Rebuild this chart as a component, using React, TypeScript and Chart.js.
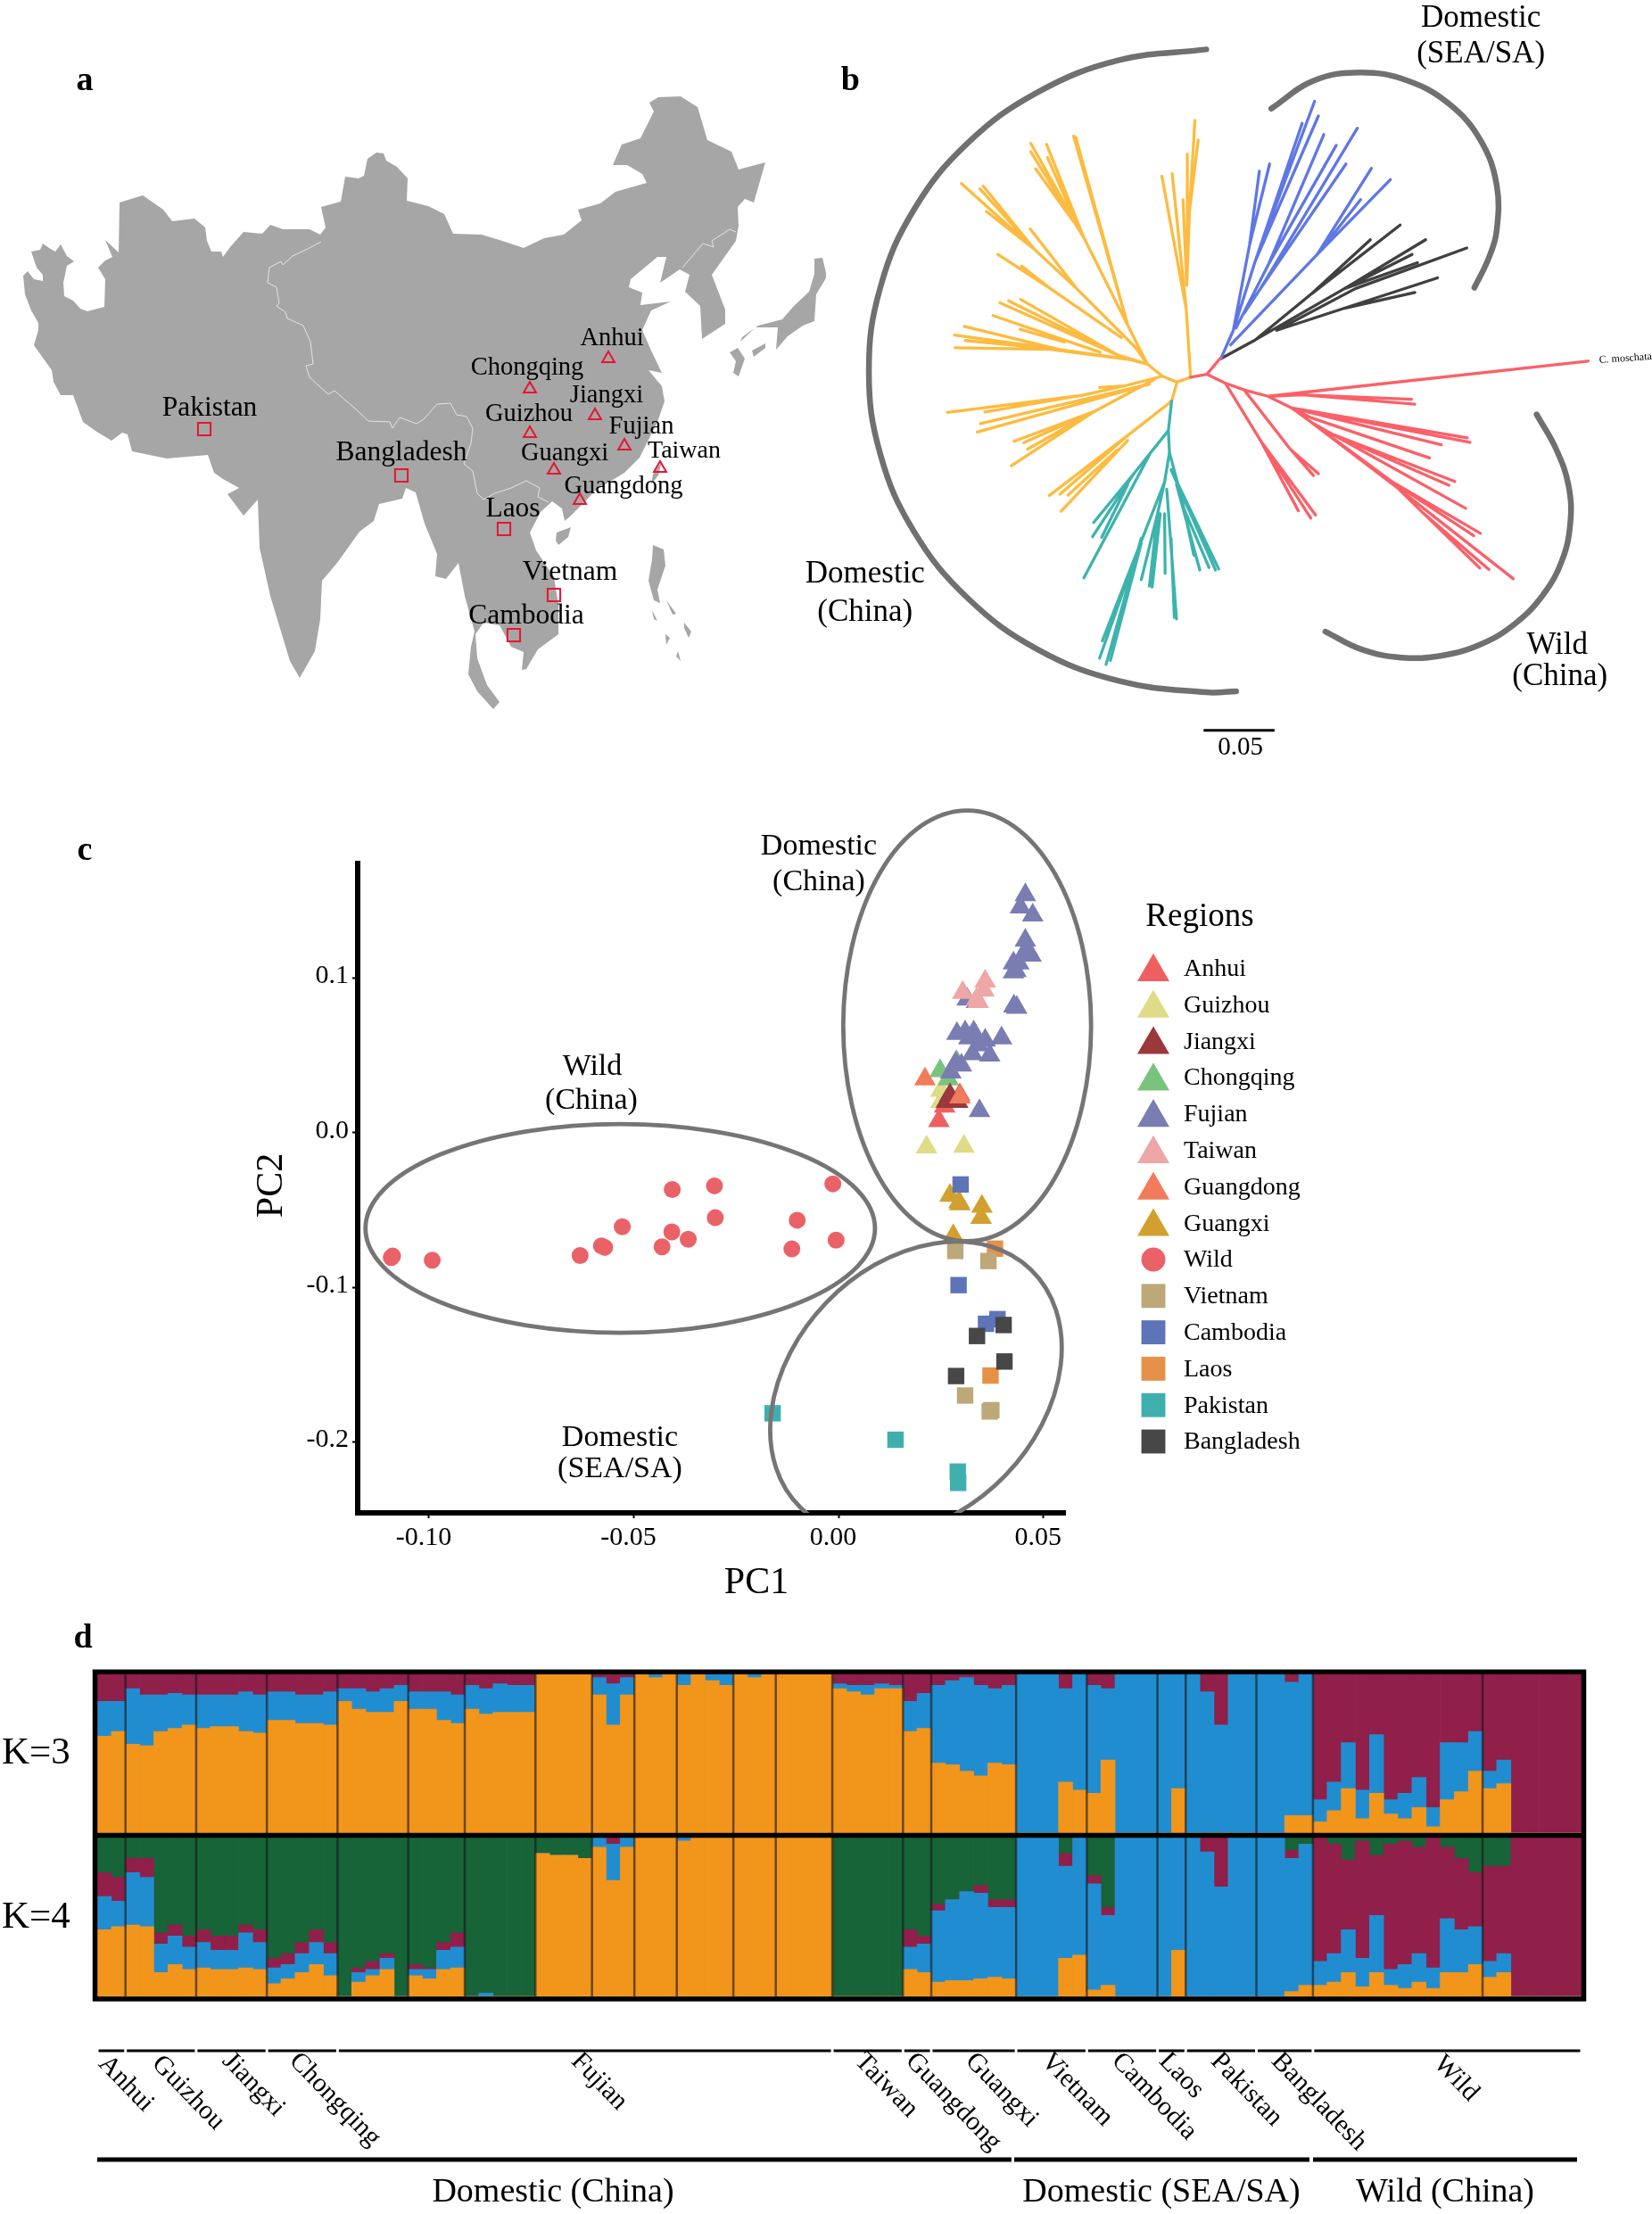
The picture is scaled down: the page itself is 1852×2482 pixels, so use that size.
import React, { useEffect, useRef } from "react";
import { Chart, registerables } from "chart.js";
import { drawPoint } from "chart.js/helpers";

Chart.register(...registerables);

type P = [number, number];
const FONT = '"Liberation Serif", "Times New Roman", serif';

/* ---------- panel a: map, in map units ---------- */
const mainland: P[] = [[26,309],[31,304],[38,313],[48,315],[48,308],[41,300],[35,282],[45,280],[48,273],[55,278],[62,282],[68,274],[75,287],[83,293],[75,298],[71,317],[72,332],[82,337],[90,346],[98,349],[117,344],[118,313],[110,300],[118,292],[126,288],[118,269],[133,283],[134,227],[160,219],[173,228],[183,235],[193,248],[218,245],[230,255],[232,270],[237,282],[248,282],[250,288],[258,277],[273,260],[294,262],[303,252],[317,257],[347,257],[359,263],[365,255],[360,232],[382,226],[387,198],[402,200],[408,197],[412,178],[422,171],[430,172],[433,180],[445,187],[457,200],[456,225],[480,231],[498,240],[508,262],[540,263],[563,270],[587,278],[610,267],[632,263],[652,247],[648,235],[673,228],[690,215],[725,205],[720,195],[703,185],[687,185],[697,162],[718,155],[733,125],[728,115],[738,109],[763,108],[782,120],[793,157],[820,170],[828,190],[858,182],[845,227],[835,223],[827,232],[828,253],[825,270],[798,308],[813,347],[813,363],[787,380],[785,343],[768,327],[773,308],[762,302],[740,317],[747,288],[737,288],[707,313],[705,322],[720,328],[718,342],[752,338],[730,348],[720,370],[730,393],[742,418],[727,415],[742,433],[745,450],[737,473],[717,513],[700,530],[667,550],[658,560],[639,579],[633,584],[630,570],[619,562],[606,574],[594,597],[601,617],[621,647],[626,678],[626,711],[603,728],[590,750],[585,751],[587,731],[573,725],[560,701],[542,698],[533,711],[535,738],[546,768],[560,787],[553,795],[535,775],[525,756],[528,725],[532,708],[521,668],[514,631],[500,649],[488,646],[490,621],[476,587],[466,552],[455,547],[451,559],[425,565],[419,584],[403,596],[378,631],[361,651],[359,694],[353,730],[336,760],[325,741],[303,668],[291,614],[289,560],[273,578],[255,554],[268,547],[250,537],[240,530],[233,510],[187,514],[148,506],[143,487],[137,485],[125,494],[107,483],[93,473],[82,443],[68,443],[60,428],[58,415],[38,387],[43,370],[43,362],[35,348],[28,330],[26,309]];
const honshu: P[] = [[913,290],[922,289],[927,310],[915,330],[913,360],[900,365],[883,377],[870,392],[872,367],[847,367],[830,383],[832,378],[850,365],[877,358],[890,343],[907,327],[913,307],[913,290]];
const shikoku: P[] = [[843,393],[858,385],[858,390],[845,400],[843,393]];
const kyushu: P[] = [[818,395],[827,390],[835,402],[828,422],[822,418],[825,405],[818,395]];
const hainan: P[] = [[624,597],[640,591],[637,602],[626,611],[623,606],[624,597]];
const taiwanIsland: P[] = [[742,517],[738,533],[730,543],[732,532],[742,517]];
const luzon: P[] = [[732,611],[744,616],[746,634],[737,661],[740,676],[733,673],[727,651],[731,627],[732,611]];
const mindoro: P[] = [[731,684],[737,696],[733,694],[731,684]];
const samar: P[] = [[767,698],[775,708],[772,715],[767,704],[767,698]];
const panay: P[] = [[746,711],[751,715],[747,723],[746,711]];
const visayas: P[] = [[747,673],[758,688],[754,689],[747,673]];
const mindanao: P[] = [[760,730],[763,741],[758,736],[760,730]];
const islands = [honshu, shikoku, kyushu, hainan, taiwanIsland, luzon, mindoro, samar, panay, visayas, mindanao];
const chinaBorder: P[] = [[360,271],[343,280],[328,287],[317,297],[315,293],[302,300],[300,317],[310,322],[313,340],[310,343],[320,350],[322,357],[340,365],[348,383],[351,408],[343,410],[347,423],[368,442],[375,438],[397,457],[413,472],[437,473],[440,480],[448,468],[467,475],[475,470],[490,453],[505,452],[512,465],[523,467],[530,480],[528,497],[520,520],[530,528],[535,553],[542,560],[555,553],[573,547],[590,539],[605,547],[603,557],[615,563]];
const koreaBorder: P[] = [[765,300],[788,273],[800,277],[798,270],[818,257],[825,260]];
const provinceSites: P[] = [[682,402],[594,436],[667,466],[594,486],[700,500],[621,527],[740,525],[650,561]];
const countrySites: P[] = [[229,481],[450,533],[565,593],[621,667],[576,712]];

/* ---------- panel b: tree, in tree units ---------- */
const blueTree: P[][] = [
  [[772,733],[795,675],[835,535],[945,207]],[[835,535],[922,252]],[[835,535],[952,237]],
  [[795,675],[825,500],[843,350]],[[825,500],[862,335]],
  [[800,670],[860,540],[962,275]],[[860,540],[985,297]],
  [[815,640],[845,590],[1024,262]],[[845,590],[1003,335]],
  [[790,705],[950,520],[1050,344]],[[950,520],[1085,367]],[[950,520],[1030,408]],
];
const blackTree: P[][] = [
  [[772,733],[835,695],[940,600],[1103,460]],[[940,600],[1048,490]],
  [[835,695],[1000,590],[1150,490]],[[1000,590],[1125,520]],[[1000,590],[1135,537]],
  [[875,675],[1020,590],[1226,507]],[[875,675],[1000,630],[1172,568]],[[1000,630],[1130,598]],
];
const redTree: P[][] = [
  [[771,732],[746,765],[716,771]],[[746,765],[780,783],[815,797],[859,810],[1450,738]],
  [[859,810],[922,807],[1124,816]],[[922,807],[1130,826]],
  [[859,810],[903,834],[1227,895]],[[903,834],[1232,904]],[[903,834],[1179,909]],
  [[903,834],[939,854],[1157,936]],
  [[903,834],[939,863],[1087,984],[1251,1090]],[[1087,984],[1239,1095]],
  [[939,863],[1098,997],[1312,1183]],[[1098,997],[1142,1045],[1267,1164]],[[1142,1045],[1250,1161]],
  [[939,863],[977,887],[1204,984]],[[977,887],[1193,992]],[[977,887],[1224,1039]],
  [[780,783],[846,902],[915,1044]],[[846,902],[938,1059]],[[846,902],[947,1053]],
  [[815,797],[900,918],[943,972]],[[900,918],[952,968]],
];
const yellowTree: P[][] = [
  [[716,771],[691,781],[664,769],[636,744]],[[691,781],[681,820]],
  [[716,771],[708,632],[663,360]],[[708,632],[682,355]],[[709,583],[702,408]],
  [[709,583],[714,431],[724,246]],[[714,431],[730,286]],[[711,510],[710,315]],
  [[636,744],[600,665],[500,278]],[[600,665],[504,281]],
  [[600,665],[519,486],[421,293]],[[519,486],[421,310]],[[519,486],[450,295]],[[505,456],[452,322]],[[500,453],[430,345]],
  [[636,744],[615,711],[505,589],[428,510],[293,375]],[[428,510],[327,386]],[[428,510],[333,380]],[[428,510],[339,432]],[[505,589],[420,468]],
  [[588,690],[456,589],[360,520]],[[456,589],[404,544]],
  [[636,744],[582,726],[402,612]],[[582,726],[380,615]],[[582,726],[364,619]],[[549,720],[351,645]],[[483,699],[401,673]],
  [[636,744],[604,735],[472,714],[298,667]],[[472,714],[280,685]],[[472,714],[300,696]],[[604,735],[456,714],[281,711]],
  [[664,769],[593,789],[516,808],[267,843]],[[593,789],[548,792]],[[516,808],[336,842]],
  [[640,785],[328,866]],[[640,785],[322,883]],
  [[650,775],[540,840],[390,902]],[[540,840],[408,905]],[[540,840],[415,918]],[[540,840],[385,952]],
  [[681,820],[600,890],[455,1013]],[[600,890],[475,1010]],[[580,920],[490,1012]],[[600,900],[477,1045]],
];
const tealTree: P[][] = [
  [[681,820],[675,880],[677,925]],
  [[675,880],[610,970],[537,1068]],[[610,970],[535,1097]],[[600,990],[552,1098]],[[640,930],[519,1181]],
  [[677,925],[668,985],[620,1120],[553,1310]],[[620,1120],[548,1345]],[[625,1100],[560,1358]],[[625,1110],[568,1350]],
  [[668,985],[655,1050],[625,1185]],[[655,1050],[640,1198]],[[660,1050],[645,1200]],[[668,1050],[669,1172]],
  [[672,1000],[690,1265]],[[680,1100],[686,1262]],
  [[677,925],[700,1020],[722,1135]],[[690,990],[733,1165]],[[680,960],[762,1165]],[[680,960],[768,1163]],[[700,1030],[750,1160]],
];
const treeScaleBar: P[] = [[740,1493],[871,1493]];
const arcDomesticChina: P[] = [[745,101],[584,123],[433,189],[304,293],[205,429],[143,588],[122,758],[143,928],[205,1086],[304,1222],[433,1327],[584,1392],[745,1415],[800,1413]];
const arcDomesticSea: P[] = [[865,222],[943,165],[1030,148],[1117,165],[1194,213],[1251,286],[1281,377],[1281,473],[1266,529],[1240,588]];
const arcWild: P[] = [[1355,847],[1391,918],[1414,993],[1417,1071],[1401,1148],[1366,1217],[1315,1275],[1252,1317],[1180,1340],[1105,1344],[1031,1327],[965,1291]];

/* ---------- panel c: PCA values ---------- */
const pcaAnhui: P[] = [[.0259,.0170],[.0245,.0076],[.0296,.0244]];
const pcaGuizhou: P[] = [[.0250,.0273],[.0250,.0200],[.0215,-.0094],[.0306,-.0089]];
const pcaJiangxi: P[] = [[.0272,.0244],[.0263,.0200],[.0291,.0200]];
const pcaChongqing: P[] = [[.0248,.0400],[.0288,.0459],[.0268,.0347]];
const pcaFujian: P[] = [[.0456,.1538],[.0444,.1459],[.0474,.1406],[.0456,.1244],[.0456,.1176],[.0470,.1147],[.0427,.1097],[.0440,.1097],[.0433,.1047],[.0427,.1038],[.0428,.0818],[.0435,.0809],[.0314,.0862],[.0337,.0847],[.0289,.0641],[.0309,.0650],[.0330,.0650],[.0318,.0612],[.0358,.0597],[.0398,.0612],[.0341,.0567],[.0327,.0509],[.0369,.0500],[.0300,.0435],[.0274,.0391],[.0344,.0141],[.0286,.0450]];
const pcaTaiwan: P[] = [[.0303,.0906],[.0358,.0979],[.0355,.0920],[.0337,.0862],[.0341,.0847]];
const pcaGuangdong: P[] = [[.0211,.0347],[.0296,.0229]];
const pcaGuangxi: P[] = [[.0272,-.0406],[.0294,-.0448],[.0350,-.0477],[.0348,-.0550],[.0280,-.0668],[.0296,-.0462]];
const pcaWild: P[] = [[-.1089,-.0798],[-.1092,-.0808],[-.0992,-.0825],[-.0631,-.0795],[-.0579,-.0732],[-.0571,-.0742],[-.0528,-.0609],[-.0431,-.0738],[-.0407,-.0642],[-.0406,-.0368],[-.0367,-.0689],[-.0303,-.0344],[-.0301,-.0550],[-.0114,-.0752],[-.0101,-.0566],[-.0014,-.0331],[-.0006,-.0695]];
const pcaVietnam: P[] = [[.0285,-.0765],[.0366,-.0830],[.0309,-.1700],[.0369,-.1803],[.0373,-.1795]];
const pcaCambodia: P[] = [[.0298,-.0335],[.0293,-.0986],[.0388,-.1206],[.0360,-.1236]];
const pcaLaos: P[] = [[.0382,-.0750],[.0371,-.1571]];
const pcaPakistan: P[] = [[-.0161,-.1815],[.0139,-.1986],[.0291,-.2192],[.0292,-.2265]];
const pcaBangladesh: P[] = [[.0403,-.1244],[.0338,-.1315],[.0405,-.1480],[.0287,-.1574]];

const regions = [
  { name: "Anhui", color: "#ee6060", style: "triangle", pts: pcaAnhui, order: 4 },
  { name: "Guizhou", color: "#dfdb87", style: "triangle", pts: pcaGuizhou, order: 7 },
  { name: "Jiangxi", color: "#9a383c", style: "triangle", pts: pcaJiangxi, order: 3 },
  { name: "Chongqing", color: "#78c37d", style: "triangle", pts: pcaChongqing, order: 6 },
  { name: "Fujian", color: "#7a7db2", style: "triangle", pts: pcaFujian, order: 5 },
  { name: "Taiwan", color: "#eea6a6", style: "triangle", pts: pcaTaiwan, order: 2 },
  { name: "Guangdong", color: "#f07c5c", style: "triangle", pts: pcaGuangdong, order: 1 },
  { name: "Guangxi", color: "#d1a02e", style: "triangle", pts: pcaGuangxi, order: 8 },
  { name: "Wild", color: "#ea6268", style: "circle", pts: pcaWild, order: 9 },
  { name: "Vietnam", color: "#bca878", style: "rect", pts: pcaVietnam, order: 10 },
  { name: "Cambodia", color: "#5e74b9", style: "rect", pts: pcaCambodia, order: 6 },
  { name: "Laos", color: "#e69148", style: "rect", pts: pcaLaos, order: 11 },
  { name: "Pakistan", color: "#3fafae", style: "rect", pts: pcaPakistan, order: 10 },
  { name: "Bangladesh", color: "#474747", style: "rect", pts: pcaBangladesh, order: 3 },
];

/* ---------- panel d: ancestry, cumulative percent per individual ---------- */
const groupNames = ["Anhui","Guizhou","Jiangxi","Chongqing","Fujian","Taiwan","Guangdong","Guangxi","Vietnam","Cambodia","Laos","Pakistan","Bangladesh","Wild"];
const groupEnds = [2,7,12,17,52,57,59,65,70,75,77,82,86,105];
const dividers = [2,7,12,17,22,26,31,35,38,41,45,48,52,57,59,65,70,75,77,82,86,98];
const k3Orange = [61,64, 56,55,64,66,68, 66,67,67,64,63, 71,71,69,69,68, 83,78,76,76,83, 78,78,71,69, 78,75,76,76,76, 100,100,100,100, 87,68,87, 100,98,100, 93,100,96,93, 100,98,100, 100,100,100,100, 91,89,87,91,91, 64,66, 44,43,39,36,44,43, 0,0,0,32,27, 25,46,0,0,0, 0,28, 0,0,0,0,0, 0,0,11,11, 7,14,28,9,25,12,9,16,4,21,26,39, 28,31,0,0,0,0,0];
const k3Blue = [83,83, 91,87,87,88,87, 87,87,87,89,87, 89,89,87,87,89, 91,91,89,91,93, 89,89,89,87, 93,91,94,93,93, 100,100,100,100, 98,94,98, 100,100,100, 100,100,100,100, 100,100,100, 100,100,100,100, 94,93,93,94,93, 83,88, 93,96,98,93,91,93, 100,100,100,91,100, 93,91,100,100,100, 100,100, 100,89,68,100,100, 100,100,95,100, 21,32,57,27,62,21,25,35,16,57,57,64, 39,46,0,0,0,0,0];
const k3Maroon = Array<number>(105).fill(100);
const k4Orange = [42,44, 45,44,15,20,17, 18,17,17,18,17, 8,11,15,20,13, 0,9,13,17,0, 13,11,17,18, 0,0,0,0,0, 90,89,89,87, 94,73,94, 100,100,100, 98,100,100,100, 100,100,100, 100,100,100,100, 0,0,0,0,0, 17,15, 9,10,10,11,12,11, 0,0,0,24,26, 4,7,0,0,0, 0,29, 0,0,0,0,0, 0,0,3,7, 7,9,15,6,15,7,5,9,5,15,15,20, 12,15,0,0,0,0,0];
const k4Blue = [63,60, 78,75,33,38,31, 34,29,29,40,34, 18,20,27,34,27, 0,15,17,24,0, 17,17,29,31, 0,2,0,0,0, 90,89,89,87, 100,96,100, 100,100,100, 100,100,100,100, 100,100,100, 100,100,100,100, 0,0,0,0,0, 31,33, 54,61,66,65,56,56, 100,100,100,82,100, 71,51,100,100,100, 100,100, 100,91,69,100,100, 100,100,87,96, 22,27,42,24,51,17,20,27,18,49,42,44, 22,27,0,0,0,0,0];
const k4Maroon = [78,75, 87,87,40,45,38, 42,38,38,45,42, 24,27,34,42,34, 0,18,22,27,0, 20,18,34,40, 0,2,0,0,0, 90,89,89,87, 100,100,100, 100,100,100, 100,100,100,100, 100,100,100, 100,100,100,100, 0,0,0,0,0, 42,38, 58,61,66,70,61,61, 100,100,100,90,100, 76,56,100,100,100, 100,100, 100,100,100,100,100, 100,100,92,96, 100,96,86,98,89,96,98,94,100,94,87,78, 82,82,100,100,100,100,100];
const k4Green = Array<number>(105).fill(100);

/* ---------- helpers ---------- */
const pts = (a: P[]) => a.map(([x, y]) => ({ x, y }));
const segs = (paths: P[][]) => {
  const out: { x: number; y: number }[] = [];
  paths.forEach((p) => { out.push(...pts(p)); out.push({ x: NaN, y: NaN }); });
  return out;
};
type Txt = { t: string; x: number; y: number; s: number; bold?: boolean; rot?: number; align?: CanvasTextAlign };
const textPlugin = (items: Txt[], mode: "data" | "page", ox = 0, oy = 0) => ({
  id: "texts",
  afterDraw(chart: any) {
    const { ctx, scales } = chart;
    items.forEach((i) => {
      const px = mode === "data" ? scales.x.getPixelForValue(i.x) : i.x - ox;
      const py = mode === "data" ? scales.y.getPixelForValue(i.y) : i.y - oy;
      ctx.save();
      ctx.translate(px, py + 2);
      if (i.rot) ctx.rotate((i.rot * Math.PI) / 180);
      ctx.font = `${i.bold ? "bold " : ""}${i.s}px ${FONT}`;
      ctx.fillStyle = "#000";
      ctx.textAlign = i.align || "center";
      ctx.textBaseline = "middle";
      ctx.fillText(i.t, 0, 0);
      ctx.restore();
    });
  },
});
const baseOptions = {
  animation: false,
  responsive: false,
  devicePixelRatio: 1,
  layout: { padding: 0, autoPadding: false },
  plugins: { legend: { display: false }, tooltip: { enabled: false }, title: { display: false } },
};

/* ---------- panel a config ---------- */
const mapTexts: Txt[] = [
  { t: "a", x: 95, y: 89, s: 38, bold: true },
  { t: "Anhui", x: 686, y: 378, s: 28.5 }, { t: "Chongqing", x: 591, y: 411, s: 28.5 },
  { t: "Jiangxi", x: 680, y: 442, s: 28.5 }, { t: "Guizhou", x: 593, y: 463, s: 28.5 },
  { t: "Fujian", x: 719, y: 477, s: 28.5 }, { t: "Guangxi", x: 633, y: 507, s: 28.5 },
  { t: "Taiwan", x: 767, y: 504, s: 28 }, { t: "Guangdong", x: 699, y: 544, s: 28.5 },
  { t: "Pakistan", x: 235, y: 456, s: 31.5 }, { t: "Bangladesh", x: 450, y: 506, s: 31.5 },
  { t: "Laos", x: 575, y: 569, s: 31.5 }, { t: "Vietnam", x: 639, y: 640, s: 31.5 }, { t: "Cambodia", x: 590, y: 689, s: 31.5 },
];
const land = (d: P[]) => ({ data: pts(d), showLine: true, fill: "shape", backgroundColor: "#a6a6a6", borderColor: "#a6a6a6", borderWidth: 0, pointRadius: 0 });
const borderLine = (d: P[]) => ({ data: pts(d), showLine: true, borderColor: "#e4e4e4", borderWidth: 1, pointRadius: 0 });
const mapConfig = () => ({
  type: "scatter",
  data: { datasets: [
    { data: pts(provinceSites), pointStyle: "triangle", pointRadius: 8, pointBackgroundColor: "rgba(0,0,0,0)", pointBorderColor: "#e8152f", pointBorderWidth: 2 },
    { data: pts(countrySites), pointStyle: "rect", pointRadius: 10, pointBackgroundColor: "rgba(0,0,0,0)", pointBorderColor: "#e8152f", pointBorderWidth: 2 },
    borderLine(chinaBorder), borderLine(koreaBorder),
    land(mainland), ...islands.map(land),
  ] },
  options: {
    ...baseOptions,
    scales: {
      x: { type: "linear", min: 0, max: 926, display: false },
      y: { type: "linear", min: 0, max: 850, reverse: true, display: false },
    },
  },
  plugins: [textPlugin(mapTexts, "data")],
});

/* ---------- panel b config ---------- */
const treeTexts: Txt[] = [
  { t: "b", x: 88, y: 162, s: 38, bold: true },
  { t: "Domestic", x: 1252, y: 35, s: 35 }, { t: "(SEA/SA)", x: 1252, y: 108, s: 35 },
  { t: "Domestic", x: 115, y: 1170, s: 35 }, { t: "(China)", x: 115, y: 1248, s: 35 },
  { t: "Wild", x: 1393, y: 1316, s: 35 }, { t: "(China)", x: 1398, y: 1380, s: 35 },
  { t: "0.05", x: 808, y: 1525, s: 29 },
  { t: "C. moschata", x: 1519, y: 729, s: 12, rot: -4 },
];
const branch = (p: P[][], c: string) => ({ data: segs(p), showLine: true, borderColor: c, borderWidth: 3.3, pointRadius: 0, spanGaps: false, clip: false, borderCapStyle: "round", borderJoinStyle: "round" });
const arc = (p: P[]) => ({ data: pts(p), showLine: true, tension: 0.4, borderColor: "#707070", borderWidth: 6.5, pointRadius: 0, clip: false, borderCapStyle: "round" });
const treeConfig = () => ({
  type: "scatter",
  data: { datasets: [
    { data: pts(treeScaleBar), showLine: true, borderColor: "#000", borderWidth: 3, pointRadius: 0 },
    branch(redTree, "#fb6068"), branch(blueTree, "#5f77e4"), branch(blackTree, "#404040"),
    branch(tealTree, "#3db3ad"), branch(yellowTree, "#fdbb3f"),
    arc(arcDomesticChina), arc(arcDomesticSea), arc(arcWild),
  ] },
  options: {
    ...baseOptions,
    scales: {
      x: { type: "linear", min: 0, max: 1568, display: false },
      y: { type: "linear", min: 0, max: 1568, reverse: true, display: false },
    },
  },
  plugins: [textPlugin(treeTexts, "data")],
});

/* ---------- panel c config ---------- */
const C_TOP = 900;
const pcaTexts: Txt[] = [
  { t: "c", x: 95, y: 952, s: 38, bold: true },
  { t: "PC1", x: 848, y: 1773, s: 42 },
  { t: "PC2", x: 305, y: 1327, s: 42, rot: -90 },
  { t: "Domestic", x: 918, y: 947, s: 34 }, { t: "(China)", x: 918, y: 987, s: 34 },
  { t: "Wild", x: 664, y: 1194, s: 34 }, { t: "(China)", x: 663, y: 1232, s: 34 },
  { t: "Domestic", x: 695, y: 1610, s: 34 }, { t: "(SEA/SA)", x: 695, y: 1645, s: 34 },
  { t: "Regions", x: 1345, y: 1026, s: 37 },
];
const ellipses = [
  { cx: .0314, cy: .0691, rx: .03026, ry: .1393 },
  { cx: -.0533, cy: -.0619, rx: .0622, ry: .0675 },
];
const seaSaEllipse = { cx: .0189, cy: -.1657, long: 185.7, short: 139.5, degrees: -46 };
const legendPlugin = {
  id: "pcaLegend",
  afterDraw(chart: any) {
    const { ctx } = chart;
    regions.forEach((r, i) => {
      const y = 1085.6 - C_TOP + i * 40.8;
      ctx.save();
      ctx.fillStyle = r.color;
      const radius = r.style === "triangle" ? 20.8 : r.style === "circle" ? 13.5 : 19;
      drawPoint(ctx, { pointStyle: r.style, radius, rotation: 0, borderWidth: 0 }, 1293, r.style === "triangle" ? y + 4 : y);
      ctx.fillStyle = "#000";
      ctx.font = `28px ${FONT}`;
      ctx.textAlign = "left";
      ctx.textBaseline = "middle";
      ctx.fillText(r.name, 1327, y + 1);
      ctx.restore();
    });
  },
};
const ellipsePlugin = {
  id: "ellipses",
  afterDatasetsDraw(chart: any) {
    const { ctx, scales, chartArea } = chart;
    ctx.save();
    ctx.strokeStyle = "#757575";
    ctx.lineWidth = 4.8;
    ellipses.forEach((e) => {
      const cx = scales.x.getPixelForValue(e.cx);
      const cy = scales.y.getPixelForValue(e.cy);
      const rx = Math.abs(scales.x.getPixelForValue(e.cx + e.rx) - cx);
      const ry = Math.abs(scales.y.getPixelForValue(e.cy + e.ry) - cy);
      ctx.beginPath();
      ctx.ellipse(cx, cy, rx, ry, 0, 0, Math.PI * 2);
      ctx.stroke();
    });
    ctx.beginPath();
    ctx.rect(0, 0, chart.width, chartArea.bottom);
    ctx.clip();
    ctx.beginPath();
    ctx.ellipse(scales.x.getPixelForValue(seaSaEllipse.cx), scales.y.getPixelForValue(seaSaEllipse.cy), seaSaEllipse.long, seaSaEllipse.short, (seaSaEllipse.degrees * Math.PI) / 180, 0, Math.PI * 2);
    ctx.stroke();
    ctx.restore();
  },
};
const fmt = (d: number) => (v: any) => (Math.abs(v) < 1e-6 ? 0 : Number(v)).toFixed(d);
const pcaConfig = () => ({
  type: "scatter",
  data: { datasets: regions.map((r) => ({
    label: r.name, data: pts(r.pts), pointStyle: r.style,
    pointRadius: r.style === "triangle" ? 14 : r.style === "circle" ? 9.5 : 13,
    pointBackgroundColor: r.color, pointBorderWidth: 0, order: r.order, clip: false,
  })) },
  options: {
    ...baseOptions,
    layout: { padding: { left: 301, right: 406, top: 68, bottom: 54 }, autoPadding: false },
    scales: {
      x: {
        type: "linear", min: -.1174, max: .0553, afterFit: (s: any) => { s.height = 60; },
        grid: { drawOnChartArea: false, drawTicks: true, tickLength: 6, tickWidth: 2, tickColor: "#000" },
        border: { color: "#000", width: 6 },
        ticks: { stepSize: .05, includeBounds: false, autoSkip: false, maxRotation: 0, padding: 4, labelOffset: -6, color: "#000", font: { family: FONT, size: 30 }, callback: fmt(2) },
      },
      y: {
        type: "linear", min: -.2459, max: .1741, afterFit: (s: any) => { s.width = 100; },
        grid: { drawOnChartArea: false, drawTicks: true, tickLength: 6, tickWidth: 2, tickColor: "#000" },
        border: { color: "#000", width: 6 },
        ticks: { stepSize: .1, includeBounds: false, autoSkip: false, padding: 4, labelOffset: -2, color: "#000", font: { family: FONT, size: 30 }, callback: fmt(1) },
      },
    },
  },
  plugins: [ellipsePlugin, legendPlugin, textPlugin(pcaTexts, "page", 0, C_TOP)],
});

/* ---------- panel d config ---------- */
const D_TOP = 1810;
const ORANGE = "#f2951b", BLUE = "#218dd1", MAROON = "#901f4a", GREEN = "#166437";
const groupLabelStarts: P[] = [[115,2307],[175,2307],[254,2304],[329,2304],[645,2304],[963,2304],[1020,2304],[1087,2304],[1172,2304],[1251,2304],[1304,2304],[1362,2304],[1430,2304],[1612,2307]];
const clusterRules = [[109,1134],[1137,1468],[1472,1768]];
const clusterLabels: Txt[] = [
  { t: "Domestic (China)", x: 620, y: 2456, s: 38 },
  { t: "Domestic (SEA/SA)", x: 1302, y: 2456, s: 38 },
  { t: "Wild (China)", x: 1620, y: 2456, s: 38 },
];
const structTexts: Txt[] = [
  { t: "d", x: 93, y: 1835, s: 38, bold: true },
  { t: "K=3", x: 2, y: 1964, s: 43, align: "left" },
  { t: "K=4", x: 2, y: 2148, s: 43, align: "left" },
  ...clusterLabels,
  ...groupNames.map((t, i) => ({ t, x: groupLabelStarts[i][0], y: groupLabelStarts[i][1], s: 30, rot: 46, align: "left" as CanvasTextAlign })),
];
const structPlugin = {
  id: "structure",
  afterDatasetsDraw(chart: any) {
    const { ctx, scales, chartArea: a } = chart;
    const edge = (i: number) => scales.x.getPixelForValue(i - 0.5);
    ctx.save();
    ctx.strokeStyle = "rgba(25,25,25,0.62)";
    ctx.lineWidth = 2.5;
    dividers.forEach((d) => {
      ctx.beginPath();
      ctx.moveTo(edge(d), a.top);
      ctx.lineTo(edge(d), a.bottom);
      ctx.stroke();
    });
    ctx.strokeStyle = "#000";
    ctx.lineWidth = 5.5;
    ctx.strokeRect(a.left - 2.5, a.top - 2.7, a.right - a.left + 5, a.bottom - a.top + 5.6);
    const sep = scales.y3.bottom;
    ctx.beginPath();
    ctx.moveTo(a.left, sep);
    ctx.lineTo(a.right, sep);
    ctx.stroke();
    ctx.lineWidth = 3;
    groupEnds.forEach((end, i) => {
      const start = i === 0 ? 0 : groupEnds[i - 1];
      ctx.beginPath();
      ctx.moveTo(edge(start) + 1.5, 2299 - D_TOP);
      ctx.lineTo(edge(end) - 1.5, 2299 - D_TOP);
      ctx.stroke();
    });
    ctx.lineWidth = 5;
    clusterRules.forEach(([l, r]) => {
      ctx.beginPath();
      ctx.moveTo(l, 2421 - D_TOP);
      ctx.lineTo(r, 2421 - D_TOP);
      ctx.stroke();
    });
    ctx.restore();
  },
};
const individuals = groupEnds.flatMap((end, i) => Array<string>(end - (i === 0 ? 0 : groupEnds[i - 1])).fill(groupNames[i]));
const bar = (label: string, data: number[], color: string, yAxisID: string) => ({
  label, data, backgroundColor: color, yAxisID, barPercentage: 1, categoryPercentage: 1, borderWidth: 0,
});
const structConfig = () => ({
  type: "bar",
  data: { labels: individuals, datasets: [
    bar("K3 orange", k3Orange, ORANGE, "y3"), bar("K3 blue", k3Blue, BLUE, "y3"), bar("K3 maroon", k3Maroon, MAROON, "y3"),
    bar("K4 orange", k4Orange, ORANGE, "y4"), bar("K4 blue", k4Blue, BLUE, "y4"), bar("K4 maroon", k4Maroon, MAROON, "y4"), bar("K4 green", k4Green, GREEN, "y4"),
  ] },
  options: {
    ...baseOptions,
    layout: { padding: { left: 109, right: 79, top: 67, bottom: 244 }, autoPadding: false },
    scales: {
      x: { type: "category", stacked: true, display: false },
      y4: { type: "linear", position: "left", stack: "k", stackWeight: 1, min: 0, max: 101.5, stacked: false, display: false },
      y3: { type: "linear", position: "left", stack: "k", stackWeight: 1, min: -1.5, max: 100, stacked: false, display: false },
    },
  },
  plugins: [structPlugin, textPlugin(structTexts, "page", 0, D_TOP)],
});

/* ---------- component ---------- */
function Panel({ make, left, top, width, height }: { make: () => any; left: number; top: number; width: number; height: number }) {
  const ref = useRef<HTMLCanvasElement>(null);
  useEffect(() => {
    const chart = new Chart(ref.current as HTMLCanvasElement, make());
    return () => chart.destroy();
  }, [make]);
  return <canvas ref={ref} width={width} height={height} style={{ position: "absolute", left, top, width, height, display: "block" }} />;
}

export default function App() {
  useEffect(() => { document.body.style.margin = "0"; document.body.style.background = "#fff"; }, []);
  return (
    <div style={{ position: "relative", width: 1852, height: 2482, overflow: "hidden", background: "#fff" }}>
      <Panel make={mapConfig} left={0} top={0} width={926} height={850} />
      <Panel make={treeConfig} left={900} top={0} width={952} height={860} />
      <Panel make={pcaConfig} left={0} top={C_TOP} width={1600} height={910} />
      <Panel make={structConfig} left={0} top={D_TOP} width={1852} height={672} />
    </div>
  );
}
